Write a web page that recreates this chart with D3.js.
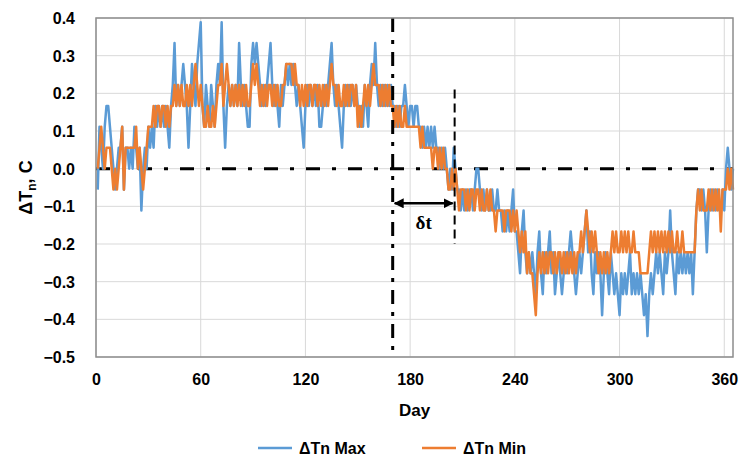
<!DOCTYPE html>
<html>
<head>
<meta charset="utf-8">
<script src="https://cdn.jsdelivr.net/npm/d3@7"></script>
<style>
  body { margin: 0; background: #fff; }
  text { font-family: "Liberation Sans", Arial, sans-serif; font-weight: bold; fill: #000; }
</style>
</head>
<body>
<svg id="chart" width="743" height="462"></svg>
<script>
// Daily ΔTn, day 1..365, recorded in 0.1 °F steps (1 step = 1/18 °C)
const STEP = 1 / 18;

const maxSteps = [
  -1, 2, 1, 0, 2, 3, 3, 2, 1, 0,   -1, 0, 1, 1, 2, -1, 1, 1, 0, 1,
  0, 2, 1, 0, 1, -2, 0, 1, 0, 2,   1, 2, 1, 3, 2, 3, 2, 3, 2, 3,
  2, 1, 3, 4, 6, 3, 4, 3, 4, 5,    4, 3, 1, 3, 5, 4, 3, 5, 6, 7,
  3, 2, 4, 3, 2, 4, 3, 2, 4, 5,    4, 7, 3, 1, 3, 4, 3, 4, 3, 4,
  3, 6, 4, 3, 4, 3, 2, 2, 5, 6,    5, 6, 5, 4, 3, 4, 3, 4, 5, 6,
  4, 3, 4, 3, 2, 4, 3, 4, 5, 4,    5, 4, 5, 4, 3, 4, 3, 2, 1, 3,
  4, 3, 4, 3, 4, 3, 4, 2, 2, 3,    4, 3, 4, 5, 6, 4, 3, 4, 3, 2,
  1, 3, 4, 3, 4, 3, 4, 3, 4, 3,    2, 3, 2, 4, 3, 2, 4, 5, 4, 6,
  4, 3, 4, 3, 4, 3, 4, 3, 4, 3,    3, 2, 3, 2, 3, 3, 4, 3, 2, 3,
  3, 2, 3, 3, 2, 2, 1, 2, 1, 2,    1, 2, 1, 2, 1, 1, 0, 1, 0, 1,
  0, -1, 0, -1, 1, 0, -1, -1, -2, -1,   -2, -1, -2, -1, -1, -2, -1, 0, 0, -1,
  -2, -1, -2, -1, -2, -2, -1, -2, -2, -1,   -2, -2, -3, -2, -3, -2, -3, -2, -1, -3,
  -3, -4, -5, -3, -2, -4, -5, -4, -5, -4,   -5, -6, -4, -3, -5, -6, -4, -5, -4, -3,
  -5, -4, -6, -5, -4, -5, -6, -5, -4, -5,   -4, -3, -4, -5, -6, -5, -4, -5, -4, -3,
  -2, -4, -3, -5, -6, -4, -5, -4, -5, -7,   -5, -4, -5, -6, -4, -5, -6, -5, -6, -7,
  -5, -6, -5, -6, -5, -4, -6, -5, -6, -5,   -6, -5, -6, -7, -6, -8, -6, -5, -6, -5,
  -4, -5, -4, -5, -6, -4, -5, -4, -2, -4,   -5, -6, -4, -5, -4, -5, -4, -5, -4, -5,
  -4, -6, -4, -2, -1, -1, -2, -1, -2, -4,
  -2, -1, -2, -1, -2, -1, -2, -2, -1, -2, 0, 1, 0, -1, 0
];

const minSteps = [
  0, 1, 2, 1, 0, 1, 1, 1, 0, -1,   0, -1, 0, 1, 2, -1, 1, 1, 1, 1,
  1, 1, 2, 0, 1, 0, -1, 0, 1, 2,   2, 2, 3, 2, 3, 3, 2, 3, 3, 2,
  3, 2, 3, 3, 4, 3, 4, 3, 4, 3,    3, 4, 3, 4, 3, 4, 5, 4, 3, 4,
  3, 2, 2, 3, 2, 2, 3, 2, 3, 4,    4, 5, 3, 4, 5, 4, 3, 4, 3, 4,
  3, 4, 3, 4, 3, 4, 3, 3, 4, 5,    4, 5, 4, 3, 4, 3, 4, 3, 4, 4,
  3, 4, 3, 4, 3, 3, 4, 4, 5, 5,    5, 5, 4, 5, 4, 4, 3, 4, 3, 4,
  3, 4, 4, 3, 4, 4, 3, 4, 3, 4,    3, 4, 3, 4, 5, 4, 4, 3, 4, 3,
  3, 4, 3, 4, 3, 4, 4, 3, 4, 2,    3, 2, 3, 4, 3, 4, 3, 4, 5, 4,
  4, 4, 3, 4, 3, 4, 3, 4, 3, 3,    2, 3, 2, 3, 2, 2, 3, 2, 2, 2,
  2, 2, 2, 2, 2, 1, 2, 1, 1, 1,    1, 1, 0, 1, 1, 0, 1, 0, 1, 0,
  0, -1, -1, 0, -1, 0, -1, -2, -1, -1,   -1, -2, -1, -2, -1, -1, -2, -1, -1, -2,
  -1, -2, -2, -1, -2, -1, -2, -2, -3, -2,   -2, -2, -2, -3, -2, -2, -2, -3, -2, -3,
  -2, -3, -4, -3, -4, -3, -5, -4, -5, -5,   -6, -7, -5, -4, -5, -4, -5, -4, -5, -4,
  -4, -5, -4, -5, -4, -4, -5, -4, -5, -4,   -5, -4, -5, -4, -5, -4, -4, -3, -4, -3,
  -2, -3, -4, -3, -4, -3, -4, -5, -4, -5,   -4, -5, -4, -5, -4, -3, -4, -3, -4, -4,
  -3, -4, -3, -4, -3, -4, -4, -3, -4, -4,   -4, -5, -5, -5, -5, -5, -4, -3, -4, -3,
  -4, -3, -4, -3, -4, -3, -4, -3, -4, -3,   -4, -4, -3, -4, -4, -3, -4, -4, -4, -4,
  -4, -4, -4, -2, -1, -2, -1, -2, -2, -2,
  -1, -2, -1, -2, -1, -2, -1, -3, -1, -1, -1, 0, -1, 0, -1
];

const seriesNames = ["\u0394Tn Max", "\u0394Tn Min"];
const seriesColors = ["#5B9BD5", "#ED7D31"];

const xTicks = [0, 60, 120, 180, 240, 300, 360];
const yTicks = [-0.5, -0.4, -0.3, -0.2, -0.1, 0, 0.1, 0.2, 0.3, 0.4];

// lag annotation (days) and its arrow / label levels (°C)
const lagStart = 170;
const lagEnd = 205.5;
const lagTop = 0.21;
const lagBottom = -0.2;
const arrowLevel = -0.092;
const labelLevel = -0.142;

const margin = { top: 18, right: 10, bottom: 105, left: 96 };
const W = 743, H = 462;

const svg = d3.select("#chart");

const x = d3.scaleLinear().domain([0, 365]).range([margin.left, W - margin.right]);
const y = d3.scaleLinear().domain([-0.5, 0.4]).range([H - margin.bottom, margin.top]);

const series = seriesNames.map((name, i) => ({
  name,
  color: seriesColors[i],
  values: (i === 0 ? maxSteps : minSteps).map((s, j) => ({ day: j + 1, v: s * STEP }))
}));

// Gridlines
svg.append("g")
  .selectAll("line")
  .data(yTicks)
  .join("line")
  .attr("x1", x(0)).attr("x2", x(365))
  .attr("y1", d => y(d)).attr("y2", d => y(d))
  .attr("stroke", "#d9d9d9").attr("stroke-width", 1);

svg.append("g")
  .selectAll("line")
  .data(xTicks)
  .join("line")
  .attr("x1", d => x(d)).attr("x2", d => x(d))
  .attr("y1", y(0.4)).attr("y2", y(-0.5))
  .attr("stroke", "#d9d9d9").attr("stroke-width", 1);

// Axes (labels only, Excel style)
const yAxis = svg.append("g")
  .attr("transform", `translate(${margin.left - 18},0)`)
  .call(d3.axisLeft(y).tickValues(yTicks).tickFormat(d3.format(".1f")).tickSize(0));
yAxis.select(".domain").remove();
yAxis.selectAll("text").attr("font-size", 16).attr("dx", 0).attr("dy", "0.35em");

const xAxis = svg.append("g")
  .attr("transform", `translate(0,${y(-0.5) + 14})`)
  .call(d3.axisBottom(x).tickValues(xTicks).tickFormat(d3.format("d")).tickSize(0));
xAxis.select(".domain").remove();
xAxis.selectAll("text").attr("font-size", 16);

// Zero line
svg.append("line")
  .attr("x1", x(0)).attr("x2", x(365))
  .attr("y1", y(0)).attr("y2", y(0))
  .attr("stroke", "#000").attr("stroke-width", 3)
  .attr("stroke-dasharray", "14,12,4,12");

// Series lines
const line = d3.line().x(d => x(d.day)).y(d => y(d.v));
svg.append("g")
  .selectAll("path")
  .data(series)
  .join("path")
  .attr("d", d => line(d.values))
  .attr("fill", "none")
  .attr("stroke", d => d.color)
  .attr("stroke-width", 2.5)
  .attr("stroke-linejoin", "round");

// Lag annotation
svg.append("line")
  .attr("x1", x(lagStart)).attr("x2", x(lagStart))
  .attr("y1", y(0.4)).attr("y2", y(-0.5))
  .attr("stroke", "#000").attr("stroke-width", 3)
  .attr("stroke-dasharray", "14,8,4,8");

svg.append("line")
  .attr("x1", x(lagEnd)).attr("x2", x(lagEnd))
  .attr("y1", y(lagTop)).attr("y2", y(lagBottom))
  .attr("stroke", "#000").attr("stroke-width", 2)
  .attr("stroke-dasharray", "9,5");

const defs = svg.append("defs");
defs.append("marker")
  .attr("id", "head")
  .attr("viewBox", "0 0 10 10")
  .attr("refX", 9).attr("refY", 5)
  .attr("markerWidth", 4).attr("markerHeight", 4)
  .attr("orient", "auto-start-reverse")
  .append("path").attr("d", "M0,0L10,5L0,10z").attr("fill", "#000");

svg.append("line")
  .attr("x1", x(lagStart) + 2).attr("x2", x(lagEnd) - 2)
  .attr("y1", y(arrowLevel)).attr("y2", y(arrowLevel))
  .attr("stroke", "#000").attr("stroke-width", 2.5)
  .attr("marker-start", "url(#head)").attr("marker-end", "url(#head)");

svg.append("text")
  .attr("x", (x(lagStart) + x(lagEnd)) / 2)
  .attr("y", y(labelLevel))
  .attr("dy", "0.35em")
  .attr("text-anchor", "middle")
  .style("font-family", "'Liberation Serif', 'Times New Roman', serif")
  .attr("font-size", 19)
  .text("\u03b4t");

// Plot border
svg.append("rect")
  .attr("x", x(0)).attr("y", y(0.4))
  .attr("width", x(365) - x(0)).attr("height", y(-0.5) - y(0.4))
  .attr("fill", "none").attr("stroke", "#8c8c8c").attr("stroke-width", 1.5);

// Axis titles
const yTitle = svg.append("text")
  .attr("transform", `translate(32,${(y(0.4) + y(-0.5)) / 2}) rotate(-90)`)
  .attr("text-anchor", "middle")
  .attr("font-size", 18);
yTitle.append("tspan").text("\u0394T");
yTitle.append("tspan").attr("font-size", 12).attr("dy", 4).text("n");
yTitle.append("tspan").attr("dy", -4).text(", C");

svg.append("text")
  .attr("x", (x(0) + x(365)) / 2)
  .attr("y", 416)
  .attr("text-anchor", "middle")
  .attr("font-size", 17)
  .text("Day");

// Legend
const legendX = [258, 422];
const legend = svg.append("g")
  .selectAll("g")
  .data(series)
  .join("g")
  .attr("transform", (d, i) => `translate(${legendX[i]},448)`);
legend.append("line")
  .attr("x1", 0).attr("x2", 34)
  .attr("stroke", d => d.color).attr("stroke-width", 2.5);
legend.append("text")
  .attr("x", 41).attr("dy", "0.35em")
  .attr("font-size", 16)
  .text(d => d.name);
</script>
</body>
</html>
